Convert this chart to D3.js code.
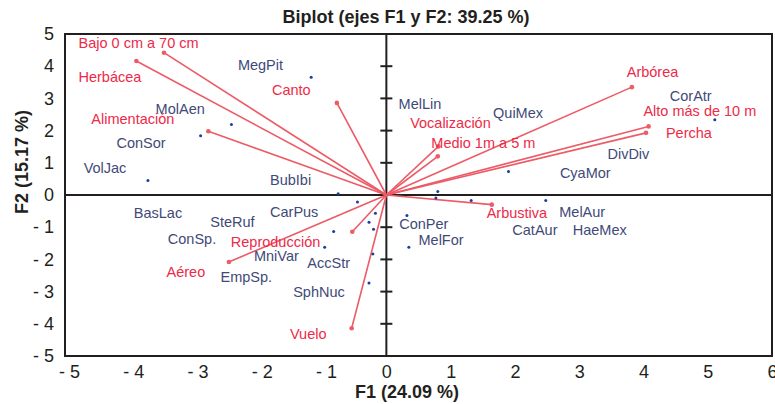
<!DOCTYPE html>
<html>
    <head>
        <meta charset="utf-8">
        <title>Biplot</title>
        <script type="text/javascript" src="https://cdnjs.cloudflare.com/ajax/libs/d3/7.8.5/d3.min.js"></script>
        <style>
            body { margin: 0; background: #fff; }
            text { font-family: "Liberation Sans", Arial, sans-serif; }
        </style>
    </head>
    <body>
        <script type="text/javascript">

            // Variables (red vectors): end point and label anchor (start, baseline)
            var varNames = ["Bajo 0 cm a 70 cm", "Herbácea", "Canto", "Alimentación", "Arbórea",
                            "Alto más de 10 m", "Percha", "Vocalización", "Medio 1m a 5 m",
                            "Arbustiva", "Reproducción", "Aéreo", "Vuelo"];
            var varF1 = [-3.46, -3.89, -0.77, -2.77, 3.82, 4.08, 4.04, 0.81, 0.80, 1.64, -0.53, -2.45, -0.54];
            var varF2 = [4.42, 4.16, 2.86, 1.98, 3.35, 2.13, 1.93, 1.51, 1.20, -0.30, -1.14, -2.08, -4.14];
            var varLabelF1 = [-4.79, -4.79, -1.78, -4.59, 3.74, 4.00, 4.35, 0.37, 0.70, 1.56, -2.42, -3.42, -1.50];
            var varLabelF2 = [4.58, 3.52, 3.12, 2.19, 3.65, 2.44, 1.78, 2.08, 1.47, -0.71, -1.60, -2.56, -4.48];

            // Observations (blue points)
            var obsF1 = [-1.17, -2.41, -2.89, -3.71, -0.75, -0.45, -0.17, -0.27, -0.20, -0.82, -0.96,
                         -0.21, -0.27, 0.80, 0.77, 1.32, 2.48, 0.32, 0.35, 1.90, 5.11];
            var obsF2 = [3.66, 2.19, 1.84, 0.45, 0.04, -0.22, -0.57, -0.85, -1.06, -1.13, -1.62,
                         -1.83, -2.73, 0.11, -0.09, -0.17, -0.17, -0.64, -1.62, 0.73, 2.34];

            // Observation labels (start, baseline)
            var obsNames = ["MegPit", "MolAen", "ConSor", "VolJac", "BubIbi", "MelLin", "QuiMex", "CorAtr",
                            "DivDiv", "CyaMor", "MelAur", "HaeMex", "CatAur", "ConPer", "MelFor", "BasLac",
                            "SteRuf", "ConSp.", "CarPus", "MniVar", "EmpSp.", "AccStr", "SphNuc"];
            var obsLabelF1 = [-2.31, -3.59, -4.20, -4.71, -1.81, 0.19, 1.66, 4.41, 3.44, 2.70, 2.69, 2.90,
                              1.96, 0.20, 0.50, -3.93, -2.74, -3.40, -1.81, -2.06, -2.58, -1.23, -1.45];
            var obsLabelF2 = [3.88, 2.52, 1.46, 0.68, 0.32, 2.67, 2.40, 2.91, 1.12, 0.53, -0.68, -1.23,
                              -1.23, -1.05, -1.55, -0.72, -1.00, -1.52, -0.68, -2.04, -2.69, -2.27, -3.17];

            var xTicks = [-5, -4, -3, -2, -1, 0, 1, 2, 3, 4, 5, 6];
            var yTicks = [-5, -4, -3, -2, -1, 0, 1, 2, 3, 4, 5];

            var svg_width = 775;
            var svg_height = 404;

            var red_text = "#ee2a48";
            var red_line = "#ec5b66";
            var blue_text = "#3f4a78";
            var blue_dot = "#1d3c9c";

            var svg = d3.select("body")
                        .append("svg")
                        .attr("width", svg_width)
                        .attr("height", svg_height);

            var x = d3.scaleLinear().domain([-5, 6]).range([65, 772]);
            var y = d3.scaleLinear().domain([-5, 5]).range([356, 34]);

            function fmt(d) {
                return d < 0 ? "- " + Math.abs(d) : String(d);
            }

            // Title
            svg.append("text")
               .attr("x", 406)
               .attr("y", 23)
               .attr("text-anchor", "middle")
               .attr("font-size", "18px")
               .attr("font-weight", "bold")
               .attr("fill", "#231f20")
               .text("Biplot (ejes F1 y F2: 39.25 %)");

            // Frame
            svg.append("rect")
               .attr("x", x(-5))
               .attr("y", y(5))
               .attr("width", x(6) - x(-5))
               .attr("height", y(-5) - y(5))
               .attr("fill", "none")
               .attr("stroke", "#231f20")
               .attr("stroke-width", 2);

            // Zero lines
            svg.append("line")
               .attr("x1", x(-5)).attr("x2", x(6))
               .attr("y1", y(0)).attr("y2", y(0))
               .attr("stroke", "#231f20").attr("stroke-width", 2);
            svg.append("line")
               .attr("x1", x(0)).attr("x2", x(0))
               .attr("y1", y(5)).attr("y2", y(-5))
               .attr("stroke", "#231f20").attr("stroke-width", 2);

            // Ticks on the vertical zero line
            svg.selectAll(".ytick")
               .data(yTicks)
               .enter()
               .append("line")
               .attr("class", "ytick")
               .attr("x1", x(0) - 6).attr("x2", x(0) + 6)
               .attr("y1", function(d) { return y(d); })
               .attr("y2", function(d) { return y(d); })
               .attr("stroke", "#231f20").attr("stroke-width", 2);

            // Left axis labels
            svg.append("g")
               .attr("transform", "translate(" + (x(-5) - 1) + ",0)")
               .call(d3.axisLeft(y).tickValues(yTicks).tickFormat(fmt).tickSize(0).tickPadding(10))
               .call(function(g) {
                   g.select(".domain").remove();
                   g.selectAll("text").attr("font-size", "18px").attr("fill", "#231f20")
                    .attr("font-family", "Liberation Sans, Arial, sans-serif");
               });

            // Bottom axis labels
            svg.append("g")
               .attr("transform", "translate(0," + (y(-5) + 1) + ")")
               .call(d3.axisBottom(x).tickValues(xTicks).tickFormat(fmt).tickSize(0).tickPadding(8))
               .call(function(g) {
                   g.select(".domain").remove();
                   g.selectAll("text").attr("font-size", "18px").attr("fill", "#231f20")
                    .attr("font-family", "Liberation Sans, Arial, sans-serif")
                    .attr("dx", function(d) { return d < 0 ? 4 : 0; });
               });

            // Axis titles
            svg.append("text")
               .attr("x", 407)
               .attr("y", 398)
               .attr("text-anchor", "middle")
               .attr("font-size", "18px")
               .attr("font-weight", "bold")
               .attr("fill", "#231f20")
               .text("F1 (24.09 %)");
            svg.append("text")
               .attr("transform", "translate(28,162) rotate(-90)")
               .attr("text-anchor", "middle")
               .attr("font-size", "18px")
               .attr("font-weight", "bold")
               .attr("fill", "#231f20")
               .text("F2 (15.17 %)");

            // Vectors
            svg.selectAll(".vec")
               .data(varNames)
               .enter()
               .append("line")
               .attr("class", "vec")
               .attr("x1", x(0)).attr("y1", y(0))
               .attr("x2", function(d, i) { return x(varF1[i]); })
               .attr("y2", function(d, i) { return y(varF2[i]); })
               .attr("stroke", red_line)
               .attr("stroke-width", 1.6);
            svg.selectAll(".vecend")
               .data(varNames)
               .enter()
               .append("circle")
               .attr("class", "vecend")
               .attr("cx", function(d, i) { return x(varF1[i]); })
               .attr("cy", function(d, i) { return y(varF2[i]); })
               .attr("r", 2.3)
               .attr("fill", red_line);

            // Observation points
            svg.selectAll(".obs")
               .data(obsF1)
               .enter()
               .append("circle")
               .attr("class", "obs")
               .attr("cx", function(d) { return x(d); })
               .attr("cy", function(d, i) { return y(obsF2[i]); })
               .attr("r", 1.5)
               .attr("fill", blue_dot);

            // Observation labels
            svg.selectAll(".obslab")
               .data(obsNames)
               .enter()
               .append("text")
               .attr("class", "obslab")
               .attr("x", function(d, i) { return x(obsLabelF1[i]); })
               .attr("y", function(d, i) { return y(obsLabelF2[i]); })
               .attr("font-size", "14.5px")
               .attr("fill", blue_text)
               .text(function(d) { return d; });

            // Vector labels
            svg.selectAll(".varlab")
               .data(varNames)
               .enter()
               .append("text")
               .attr("class", "varlab")
               .attr("x", function(d, i) { return x(varLabelF1[i]); })
               .attr("y", function(d, i) { return y(varLabelF2[i]); })
               .attr("font-size", "14.5px")
               .attr("fill", red_text)
               .text(function(d) { return d; });

        </script>
    </body>
</html>
